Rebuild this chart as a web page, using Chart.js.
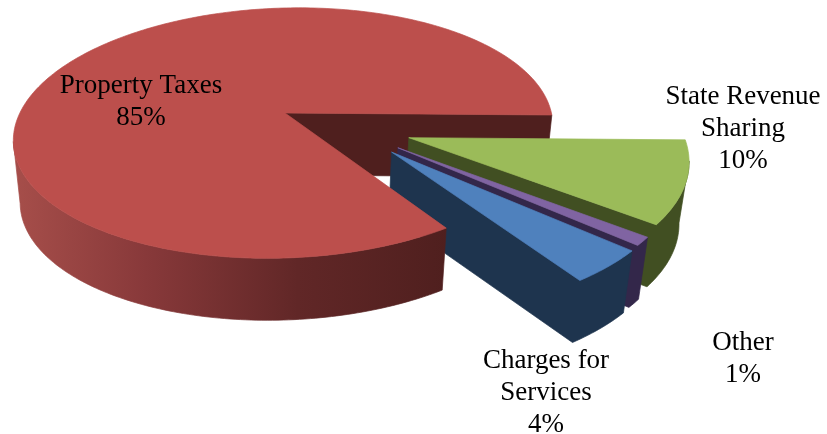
<!DOCTYPE html>
<html>
<head>
<meta charset="utf-8">
<title>Revenue sources</title>
<script src="https://cdn.jsdelivr.net/npm/chart.js@4/dist/chart.umd.js"></script>
<style>
    html, body { margin: 0; padding: 0; background: #fff; }
    canvas { display: block; }
</style>
</head>
<body>
<canvas id="myChart" width="827" height="434"></canvas>
<script>
// clockwise from 3 o'clock
const categories = ['State Revenue Sharing', 'Other', 'Charges for Services', 'Property Taxes']
const shares = [10, 1, 4, 85]
const explode = [134, 134, 134, 0]
const topColors = ['#9bbb59', '#8064a2', '#4f81bd', '#bc4f4c']
const sideColors = ['#414f22', '#33274a', '#1e344e', '#4f1f1e']

// text lines per slice, drawn with the share under them
const labelLines = [['State Revenue', 'Sharing'], ['Other'], ['Charges for', 'Services'], ['Property Taxes']]
const labelSpots = [[743, 104], [743, 350], [546, 368], [141, 93]]

const DEPTH = 62
const SHRINK = 0.025
const STEP = Math.PI / 180

// plane of the pie to screen, with some perspective towards the viewer
var project = (o, u, v) => {
    var w = 1 - 0.16 * v - 0.005 * u
    return { x: o.x + (265.5 * u - 20 * v) / w, y: o.y + (2 * u + 122 * v) / w }
}

var below = (o, p) => ({ x: p.x - SHRINK * (p.x - o.x), y: p.y + DEPTH })

function outline(o, arc) {
    var r = arc.outerRadius
    var mid = (arc.startAngle + arc.endAngle) / 2
    // the pulled out slices fan out less than their mid angle
    var dir = mid * 0.5 + 13 * STEP
    var off = (arc.options.offset || 0) / r
    var du = off ? Math.cos(dir) * off : 0
    var dv = off ? Math.sin(dir) * off : 0
    var pts = [project(o, du, dv)]
    var n = Math.ceil((arc.endAngle - arc.startAngle) / STEP)
    for (var i = 0; i <= n; i++) {
        var a = arc.startAngle + (arc.endAngle - arc.startAngle) * i / n
        pts.push(project(o, du + Math.cos(a), dv + Math.sin(a)))
    }
    return pts
}

function fillPoly(ctx, pts, style) {
    ctx.fillStyle = style
    ctx.strokeStyle = style
    ctx.lineWidth = 0.7
    ctx.beginPath()
    pts.forEach((p, i) => i ? ctx.lineTo(p.x, p.y) : ctx.moveTo(p.x, p.y))
    ctx.closePath()
    ctx.fill()
    ctx.stroke()
}

// side walls: going clockwise, only edges running right to left face the viewer
function drawSides(ctx, o, pts, style, from, to) {
    var run = []
    var flush = () => {
        if (run.length > 1) fillPoly(ctx, run.concat(run.map(p => below(o, p)).reverse()), style)
        run = []
    }
    for (var i = from; i < to; i++) {
        var a = pts[i], b = pts[(i + 1) % pts.length]
        if (b.x - a.x >= 0) {
            flush()
            continue
        }
        if (!run.length) run.push(a)
        run.push(b)
    }
    flush()
}

const pieSlab = {
    id: 'pieSlab',
    beforeDatasetsDraw(chart) {
        var ctx = chart.ctx
        var arcs = chart.getDatasetMeta(0).data
        var o = { x: arcs[0].x, y: arcs[0].y }
        var big = outline(o, arcs[3])

        // inner wall of the large slice sits behind everything else
        drawSides(ctx, o, big, sideColors[3], big.length - 1, big.length)

        for (var i = 0; i < 3; i++) {
            var pts = outline(o, arcs[i])
            drawSides(ctx, o, pts, sideColors[i], 0, pts.length)
            fillPoly(ctx, pts, topColors[i])
        }

        // rim of the large slice runs in front of the small ones
        var rim = ctx.createLinearGradient(15, 0, 450, 0)
        rim.addColorStop(0, '#a64e4a')
        rim.addColorStop(0.3, '#88393a')
        rim.addColorStop(0.65, '#612727')
        rim.addColorStop(1, '#4f1f1e')
        drawSides(ctx, o, big, rim, 0, big.length - 1)
        fillPoly(ctx, big, topColors[3])
        return false
    },
    afterDraw(chart) {
        var ctx = chart.ctx
        ctx.fillStyle = '#000'
        ctx.font = '27px "Liberation Serif"'
        ctx.textAlign = 'center'
        labelLines.forEach((lines, i) => {
            var rows = lines.concat(shares[i] + '%')
            rows.forEach((t, j) => ctx.fillText(t, labelSpots[i][0], labelSpots[i][1] + j * 32))
        })
    }
}

new Chart(document.getElementById('myChart'), {
    type: 'pie',
    data: {
        labels: categories,
        datasets: [{
            data: shares,
            offset: explode,
            backgroundColor: topColors,
            borderWidth: 0
        }]
    },
    options: {
        responsive: false,
        animation: false,
        rotation: 90,
        radius: 267,
        layout: { padding: { right: 257, bottom: 208 } },
        plugins: { legend: { display: false }, tooltip: { enabled: false } }
    },
    plugins: [pieSlab]
})
</script>
</body>
</html>
